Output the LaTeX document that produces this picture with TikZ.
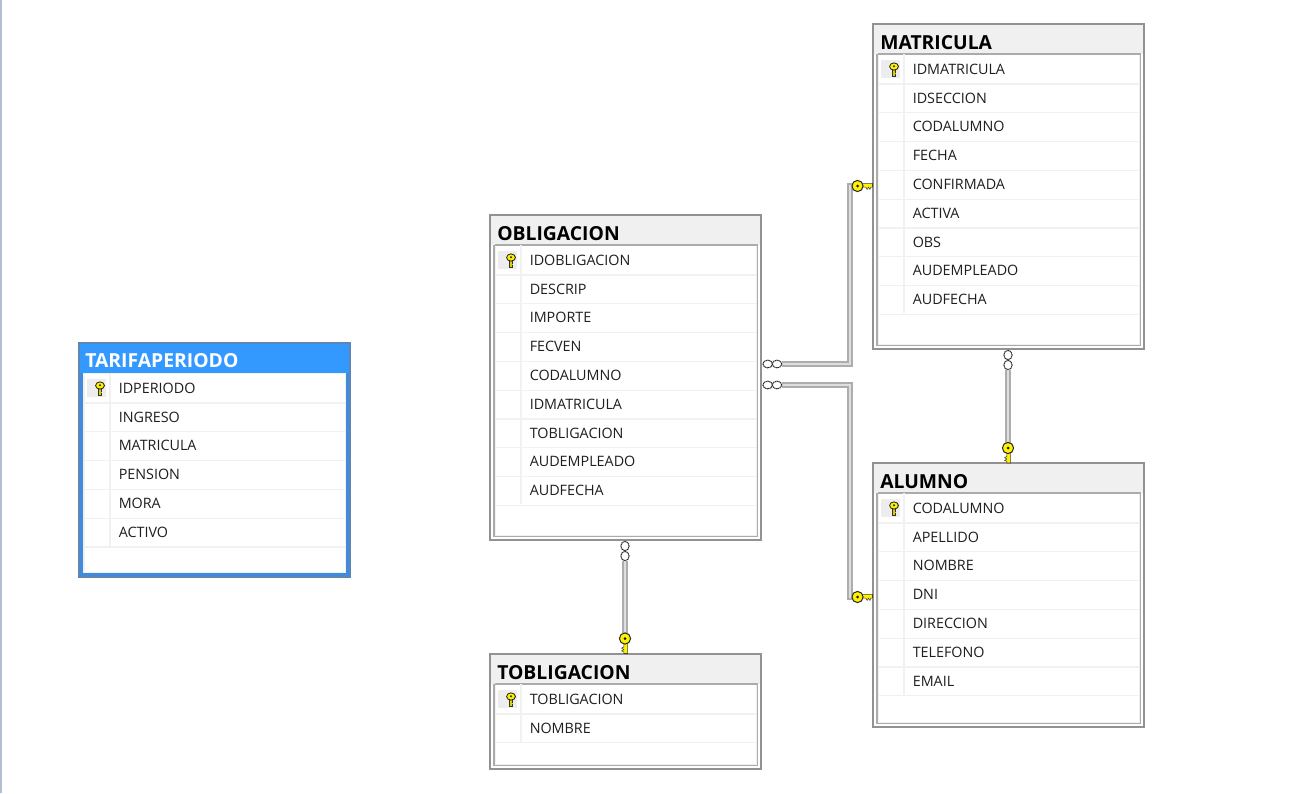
\documentclass[tikz,border=0pt]{standalone}
\usepackage{fontspec}
\setmainfont{Open Sans}
\definecolor{bord}{HTML}{929292}
\definecolor{inl}{HTML}{ABABAB}
\definecolor{band}{HTML}{F0F0F0}
\definecolor{sel}{HTML}{3399FF}
\definecolor{selb}{HTML}{5F86B3}
\definecolor{selm}{HTML}{3F8BDD}
\definecolor{edge}{HTML}{B3BED2}
\definecolor{rowl}{HTML}{F1F1F1}
\definecolor{cell}{HTML}{EDEDED}
\definecolor{txt}{HTML}{1E1E1E}
\definecolor{keyy}{HTML}{FFF200}
\definecolor{lnl}{HTML}{ADADAD}
\definecolor{lnd}{HTML}{787878}
\definecolor{lni}{HTML}{DEDEDE}
\tikzset{
  titletext/.style={font=\fontsize{14.5}{16}\selectfont\bfseries,text=black,anchor=base west,inner sep=0pt},
  rowtext/.style={font=\fontsize{10.75}{12}\selectfont,text=txt,anchor=base west,inner sep=0pt},
  relshadow/.style={draw=lnd,line width=1.5pt},
  relline/.style={draw=lnl,line width=3.9pt},
  relcore/.style={draw=lni,line width=2.1pt},
  ring/.style={ellipse,draw=black!85,dash pattern=on 1pt off 0.4pt,line width=0.75pt,fill=white,minimum width=#1,inner sep=0pt},
  ringh/.style={ring=7.2pt,minimum height=5.8pt},
  ringv/.style={ring=6.2pt,minimum height=7pt}
}
\usetikzlibrary{shapes.geometric}
\newcommand{\pkicon}[2]{%
  \fill[cell] (#1-13,#2-9) rectangle (#1+6,#2+9);
  \begin{scope}[shift={(#1,#2)}]
    \fill[black!80] (-1.9,0) rectangle (2.2,8.2);
    \fill[keyy!85!black] (-0.8,0) rectangle (0.8,7.4);
    \fill[keyy!85!black] (0.8,3.5) rectangle (2.2,4.6);
    \filldraw[fill=keyy,draw=black!85,line width=0.65pt] (0,-2.5) circle[x radius=4.4,y radius=3.6];
    \fill[black!85] (0,-2.8) circle[radius=1.1];
  \end{scope}}
\newcommand{\relkey}[3]{%
  \begin{scope}[shift={(#1,#2)},rotate=#3]
    \fill[keyy,draw=black!75,line width=0.4pt] (3,-2.6) -- (15,-2.6) -- (15,1.2) -- (13.4,1.2) -- (12.4,3.4) -- (11,1.2) -- (9.6,3.4) -- (8.4,1.2) -- (3,1.2) -- cycle;
    \filldraw[fill=keyy,draw=black!85,line width=0.75pt] (0,0) circle[radius=5.6];
    \fill[black!90] (0,0) circle[radius=1.5];
  \end{scope}}
% name, x1,y1,x2,y2, outer colour, band colour, inner line colour, inner line width
\newcommand{\dbtable}[9]{%
  \node[draw=none,fill=none,inner sep=0pt,outer sep=0pt,minimum width={(#4-#2)*0.75pt},minimum height={(#5-#3)*0.75pt},anchor=north west] (#1) at (#2,#3) {};
  \path[fill=#7,draw=#6,line width=0.85pt] (#2,#3) rectangle (#4,#5);
  \path[fill=white] (#2+1,#3+30) rectangle (#4-1,#5-1);
  \path[fill=#7] (#2+1,#3+1) rectangle (#4-1,#3+30);
  \draw[#8,line width=#9] (#2+5,#3+30) -- (#4-4,#3+30) -- (#4-4,#5-4) -- (#2+4,#5-4) -- (#2+4,#3+30);
  \draw[rowl,line width=0.7pt] (#2+5,#3+30.5) -- (#2+5,#5-5) -- (#4-5,#5-5) -- (#4-5,#3+30.5);
}
\newcommand{\rows}[5]{%
  \foreach \t [count=\i from 0] in {#5} {
    \pgfmathsetmacro{\yc}{#3+45+28.8*\i}
    \pgfmathsetmacro{\ysep}{#3+60+28.8*\i}
    \draw[rowl,line width=0.8pt] (#2+5,\ysep) -- (#4-5,\ysep);
    \draw[rowl,line width=0.8pt] (#2+31,\yc-15) -- (#2+31,\yc+14);
    \node[rowtext] (#1-r\i) at (#2+39.5,\yc+5.2) {\t};
  }
  \pkicon{#2+21}{#3+45}
}
\begin{document}
\begin{tikzpicture}[x=0.75pt,y=-0.75pt]
\useasboundingbox (0,0) rectangle (1308,793);
\fill[white] (0,0) rectangle (1308,793);
\fill[edge] (0,0) rectangle (1.5,793);
\dbtable{tar}{79}{343}{350}{577}{selb}{sel}{rowl}{0.6pt}
\draw[selm,line width=2.4pt] (81,373) -- (81,575) -- (348,575) -- (348,373);
\draw[selb,line width=0.9pt] (79,343) rectangle (350,577);
\rows{tar}{79}{343}{350}{IDPERIODO,INGRESO,MATRICULA,PENSION,MORA,ACTIVO}
\node[titletext,text=white] (tar-t) at (85,367) {TARIFAPERIODO};
\dbtable{obl}{490}{215}{761}{540}{bord}{band}{inl}{0.8pt}
\rows{obl}{490}{215}{761}{IDOBLIGACION,DESCRIP,IMPORTE,FECVEN,CODALUMNO,IDMATRICULA,TOBLIGACION,AUDEMPLEADO,AUDFECHA}
\node[titletext] (obl-t) at (497,240) {OBLIGACION};
\dbtable{mat}{873}{24}{1144}{349}{bord}{band}{inl}{0.8pt}
\rows{mat}{873}{24}{1144}{IDMATRICULA,IDSECCION,CODALUMNO,FECHA,CONFIRMADA,ACTIVA,OBS,AUDEMPLEADO,AUDFECHA}
\node[titletext] (mat-t) at (880,49) {MATRICULA};
\dbtable{alu}{873}{463}{1144}{727}{bord}{band}{inl}{0.8pt}
\rows{alu}{873}{463}{1144}{CODALUMNO,APELLIDO,NOMBRE,DNI,DIRECCION,TELEFONO,EMAIL}
\node[titletext] (alu-t) at (880,488) {ALUMNO};
\dbtable{tob}{490}{654}{761}{769}{bord}{band}{inl}{0.8pt}
\rows{tob}{490}{654}{761}{TOBLIGACION,NOMBRE}
\node[titletext] (tob-t) at (497,679) {TOBLIGACION};
\coordinate (c1a) at (obl.north east |- 0,364);
\coordinate (c1b) at (mat.north west |- 0,186);
\coordinate (c2a) at (obl.north east |- 0,385);
\coordinate (c2b) at (alu.north west |- 0,597);
\coordinate (c3a) at (mat.south west -| 1008,0);
\coordinate (c3b) at (alu.north west -| 1008,0);
\coordinate (c4a) at (obl.south west -| 625,0);
\coordinate (c4b) at (tob.north west -| 625,0);
\coordinate (k1) at (850,186);
\coordinate (k2) at (850,597);
\foreach \lay/\dx in {relshadow/1.8,relline/0,relcore/0}{
  \draw[\lay,shift={(\dx,\dx)}] ([xshift=16pt]c1a) -| (k1) -- ([xshift=-14pt]c1b);
  \draw[\lay,shift={(\dx,\dx)}] ([xshift=16pt]c2a) -| (k2) -- ([xshift=-14pt]c2b);
  \draw[\lay,shift={(\dx,\dx)}] ([yshift=-16pt]c3a) -- ([yshift=10pt]c3b);
  \draw[\lay,shift={(\dx,\dx)}] ([yshift=-16pt]c4a) -- ([yshift=10pt]c4b);
}
\foreach \c in {c1a,c2a}{
  \node[ringh] (\c-ra) at ([xshift=5pt]\c) {};
  \node[ringh] (\c-rb) at ([xshift=12pt]\c) {};
}
\foreach \c in {c3a,c4a}{
  \node[ringv] (\c-ra) at ([yshift=-4.5pt]\c) {};
  \node[ringv] (\c-rb) at ([yshift=-12pt]\c) {};
}
\relkey{857.5}{186}{0}
\relkey{857.5}{597}{0}
\relkey{1008}{448}{-90}
\relkey{625}{638.5}{-90}
\end{tikzpicture}
\end{document}
